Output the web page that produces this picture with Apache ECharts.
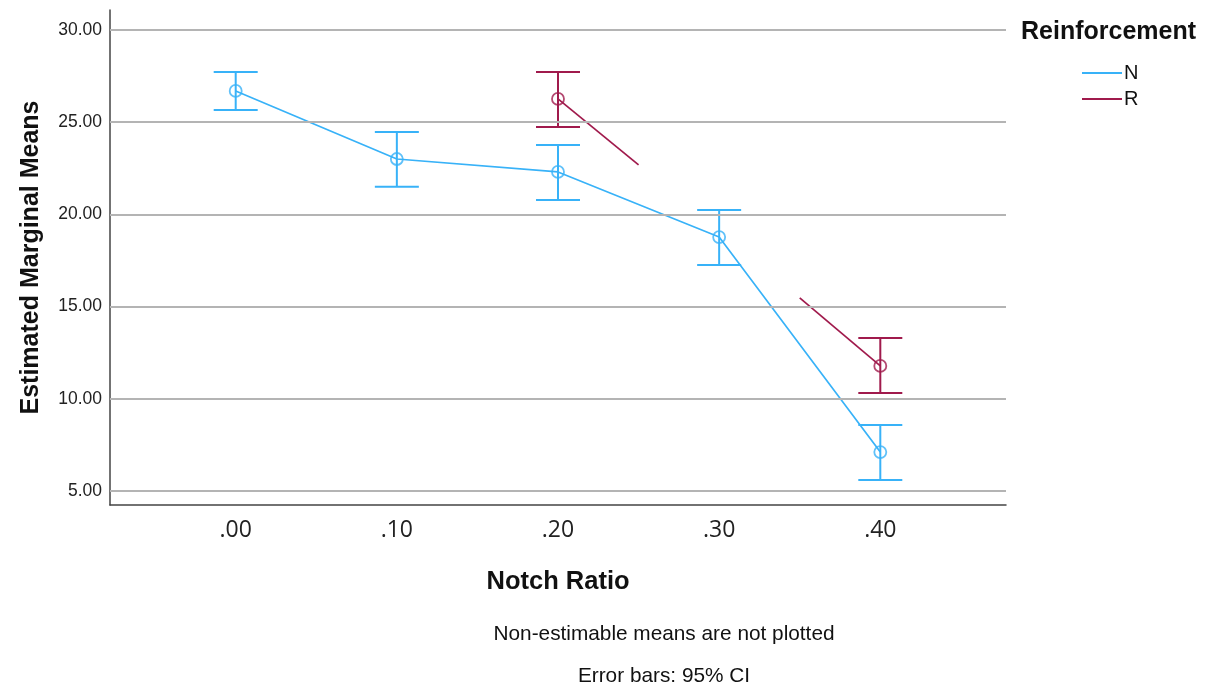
<!DOCTYPE html>
<html>
<head>
<meta charset="utf-8">
<script src="https://cdn.jsdelivr.net/npm/echarts@6/dist/echarts.min.js"></script>
<style>html,body{margin:0;padding:0;background:#fff;}#c{width:1218px;height:691px;}</style>
</head>
<body>
<div id="c"></div>
<script>
// ---- data ----
const categories = ['.00', '.10', '.20', '.30', '.40'];
const yTicks = [5, 10, 15, 20, 25, 30];
const nMean  = [26.69, 23.00, 22.30, 18.77, 7.11];
const nLower = [25.66, 21.49, 20.78, 17.26, 5.60];
const nUpper = [27.72, 24.47, 23.76, 20.24, 8.58];
// R: estimable only at .20 and .40
const rIdx   = [2, 4];
const rMean  = [26.26, 11.78];
const rLower = [24.74, 10.31];
const rUpper = [27.72, 13.30];
// R line stubs toward the non-estimable .30 mean (ends)
const rStub1 = [[2, 26.26], [2.5, 22.68]];
const rStub2 = [[3.5, 15.47], [4, 11.78]];

const colN = '#38B2F8';
const colR = '#A01A4C';
const font = '"Liberation Sans", Arial, sans-serif';
const fontX = '"Open Sans", "Liberation Sans", sans-serif';

const nPts = nMean.map((v, i) => [i, v]);
const rPts = rMean.map((v, i) => [rIdx[i], v]);
const nErr = nMean.map((v, i) => [i, nLower[i], nUpper[i]]);
const rErr = rMean.map((v, i) => [rIdx[i], rLower[i], rUpper[i]]);

function errRender(color) {
  return function (params, api) {
    const x = api.value(0);
    const lo = api.coord([x, api.value(1)]);
    const hi = api.coord([x, api.value(2)]);
    const w = 22;
    const st = { stroke: color, lineWidth: 2 };
    return {
      type: 'group',
      children: [
        { type: 'line', shape: { x1: lo[0], y1: lo[1], x2: hi[0], y2: hi[1] }, style: st },
        { type: 'line', shape: { x1: lo[0] - w, y1: lo[1], x2: lo[0] + w, y2: lo[1] }, style: st },
        { type: 'line', shape: { x1: hi[0] - w, y1: hi[1], x2: hi[0] + w, y2: hi[1] }, style: st }
      ]
    };
  };
}

const chart = echarts.init(document.getElementById('c'));
chart.setOption({
  animation: false,
  backgroundColor: '#fff',
  grid: { left: 110, right: 212, top: 10, bottom: 186 },
  title: {
    text: 'Reinforcement', left: 1016, top: 15,
    textStyle: { fontFamily: font, fontSize: 25, fontWeight: 'bold', color: '#111' }
  },
  legend: {
    orient: 'vertical', left: 1077, top: 58, itemGap: 6,
    itemWidth: 40, itemHeight: 2, icon: 'rect',
    data: [{ name: 'N', itemStyle: { color: colN } }, { name: 'R', itemStyle: { color: colR } }],
    textStyle: { fontFamily: font, fontSize: 20, color: '#111', padding: [0, 0, 0, -3] }
  },
  xAxis: {
    type: 'value', min: -0.78, max: 4.78,
    name: 'Notch Ratio', nameLocation: 'middle', nameGap: 64,
    nameTextStyle: { fontFamily: font, fontSize: 25.5, fontWeight: 'bold', color: '#111' },
    axisLine: { show: true, onZero: false, lineStyle: { color: '#444', width: 1.5 } },
    axisTick: { show: false },
    splitLine: { show: false },
    axisLabel: {
      customValues: [0, 1, 2, 3, 4], margin: 14,
      formatter: v => categories[Math.round(v)],
      fontFamily: fontX, fontSize: 23, color: '#222'
    }
  },
  yAxis: {
    type: 'value', min: 4.24, max: 31.08,
    name: 'Estimated Marginal Means', nameLocation: 'middle', nameGap: 66, nameRotate: 90,
    nameTextStyle: { fontFamily: font, fontSize: 25, fontWeight: 'bold', color: '#111' },
    axisLine: { show: true, onZero: false, lineStyle: { color: '#444', width: 1.5 } },
    axisTick: { show: false },
    splitLine: { show: false },
    axisLabel: {
      customValues: yTicks, margin: 8,
      formatter: v => v.toFixed(2),
      fontFamily: font, fontSize: 17.5, color: '#222'
    }
  },
  series: [
    {
      type: 'line', name: '_grid', data: [], silent: true,
      markLine: {
        silent: true, symbol: 'none', label: { show: false },
        lineStyle: { color: '#b4b4b4', width: 2, type: 'solid' },
        data: yTicks.map(v => ({ yAxis: v }))
      }
    },
    {
      type: 'line', name: 'N', data: nPts, showSymbol: false,
      lineStyle: { color: colN, width: 1.7 }, itemStyle: { color: colN }, z: 3
    },
    {
      type: 'line', name: 'R', data: rStub1, showSymbol: false,
      lineStyle: { color: colR, width: 1.7 }, itemStyle: { color: colR }, z: 3
    },
    {
      type: 'line', name: 'R', data: rStub2, showSymbol: false,
      lineStyle: { color: colR, width: 1.7 }, itemStyle: { color: colR }, z: 3
    },
    { type: 'custom', name: 'Nerr', data: nErr, renderItem: errRender(colN), z: 4 },
    { type: 'custom', name: 'Rerr', data: rErr, renderItem: errRender(colR), z: 4 },
    {
      type: 'scatter', name: 'Npt', data: nPts, symbol: 'circle', symbolSize: 12, z: 5,
      itemStyle: { color: 'rgba(0,0,0,0)', borderColor: colN, borderWidth: 1.8 }
    },
    {
      type: 'scatter', name: 'Rpt', data: rPts, symbol: 'circle', symbolSize: 12, z: 5,
      itemStyle: { color: 'rgba(0,0,0,0)', borderColor: colR, borderWidth: 1.8 }
    }
  ],
  graphic: [
    { type: 'text', x: 664, y: 634, style: { text: 'Non-estimable means are not plotted', fontFamily: font, fontSize: 20.8, fill: '#111', textAlign: 'center', textVerticalAlign: 'middle' } },
    { type: 'text', x: 664, y: 676, style: { text: 'Error bars: 95% CI', fontFamily: font, fontSize: 20.8, fill: '#111', textAlign: 'center', textVerticalAlign: 'middle' } }
  ]
});
</script>
</body>
</html>
